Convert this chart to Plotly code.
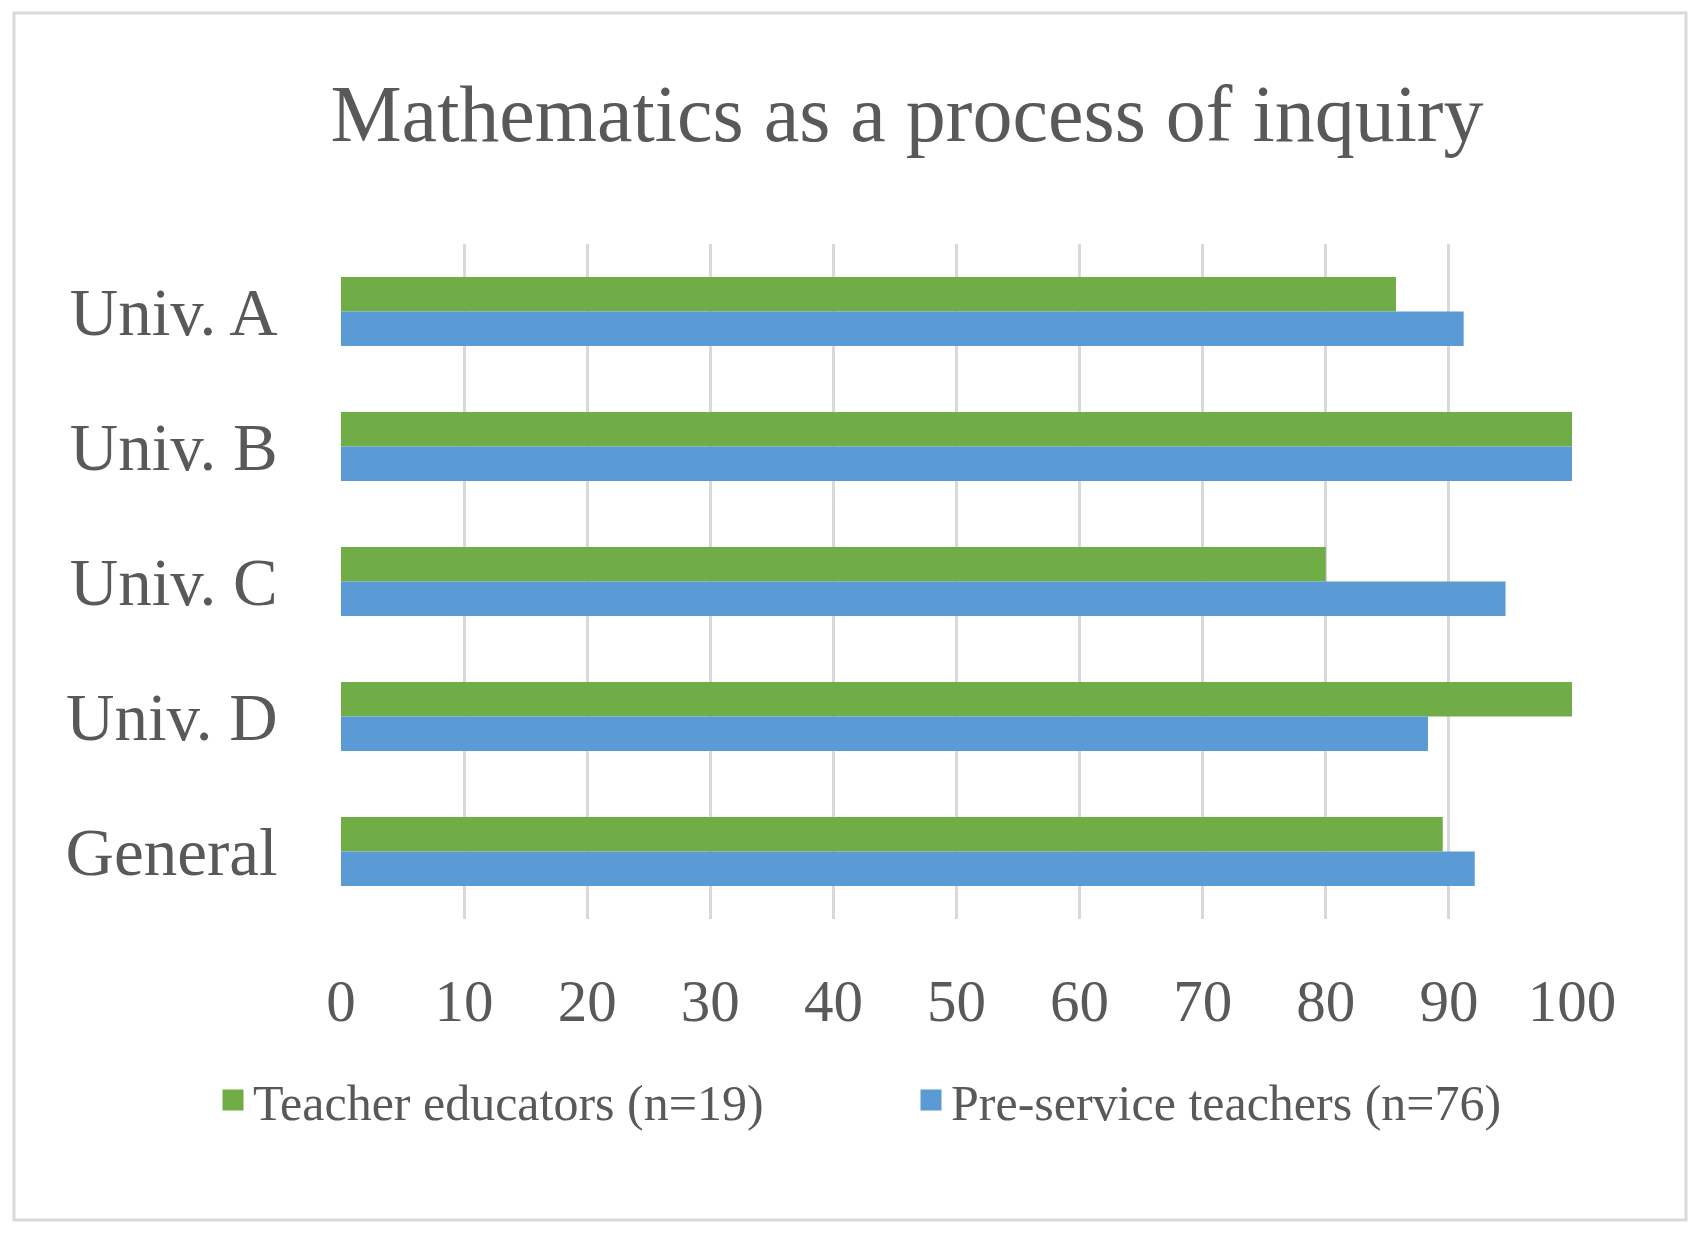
import plotly.graph_objects as go

categories = ["Univ. A", "Univ. B", "Univ. C", "Univ. D", "General"]
teacher_educators = [85.7, 100, 80, 100, 89.5]
pre_service = [91.2, 100, 94.6, 88.3, 92.1]
x_ticks = [0, 10, 20, 30, 40, 50, 60, 70, 80, 90, 100]
series_names = ["Teacher educators (n=19)", "Pre-service teachers (n=76)"]
series_colors = ["#70AD47", "#5B9BD5"]

FONT = "Liberation Serif"
TXT = "#595959"

# page has an 8px body margin; work in page coordinates and convert
OFF = 8
W, H = 1700 - 2 * OFF, 1234 - 2 * OFF
PL, PR, PT, PB = 341, 1572, 244, 919  # plot area in page px
L, R, T, B = PL - OFF, W - (PR - OFF), PT - OFF, H - (PB - OFF)
pw = W - L - R
ph = H - T - B


def px_x(x):
    return (x - OFF - L) / pw


def px_y(y):
    return (H - B - (y - OFF)) / ph


fig = go.Figure()
for vals, name, col in zip([teacher_educators, pre_service], series_names, series_colors):
    fig.add_trace(go.Bar(
        y=categories, x=vals, orientation="h", name=name,
        marker=dict(color=col, line=dict(width=0)),
        showlegend=False, legendgroup=name,
    ))
# legend entries with larger square swatches
for name, col in zip(series_names, series_colors):
    fig.add_trace(go.Scatter(
        x=[None], y=[None], mode="markers", name=name, legendgroup=name,
        marker=dict(symbol="square", size=16, color=col, line=dict(color=col, width=5)),
        showlegend=True,
    ))

fig.update_layout(
    width=W, height=H,
    margin=dict(l=L, r=R, t=T, b=B),
    paper_bgcolor="white", plot_bgcolor="white",
    barmode="group", bargap=0.49, bargroupgap=0,
    title=dict(
        text="Mathematics as a process of inquiry",
        font=dict(family=FONT, size=80, color=TXT),
        x=px_x(907), xref="paper", xanchor="center",
        y=1 - (113 - OFF) / H, yref="container", yanchor="middle",
    ),
    xaxis=dict(
        range=[0, 100], tickvals=x_ticks, showgrid=True,
        gridcolor="#D9D9D9", gridwidth=2.5, zeroline=False, showline=False,
        ticks="outside", ticklen=30, tickcolor="rgba(0,0,0,0)",
        tickfont=dict(family=FONT, size=59, color=TXT),
    ),
    yaxis=dict(
        autorange="reversed", showgrid=False, zeroline=False, showline=False,
        ticks="outside", ticklen=49, tickcolor="rgba(0,0,0,0)",
        tickfont=dict(family=FONT, size=67, color=TXT),
    ),
    legend=dict(
        orientation="h", x=px_x(213), xanchor="left",
        y=px_y(1100), yanchor="middle",
        font=dict(family=FONT, size=50, color=TXT),
        entrywidth=653, entrywidthmode="pixels",
        traceorder="normal",
    ),
    showlegend=True,
)

# chart border
fig.add_shape(
    type="rect", xref="paper", yref="paper",
    x0=px_x(14), x1=px_x(1686), y0=px_y(1220), y1=px_y(13),
    line=dict(color="#D9D9D9", width=3), fillcolor="rgba(0,0,0,0)", layer="below",
)

fig.write_html("out.html")
